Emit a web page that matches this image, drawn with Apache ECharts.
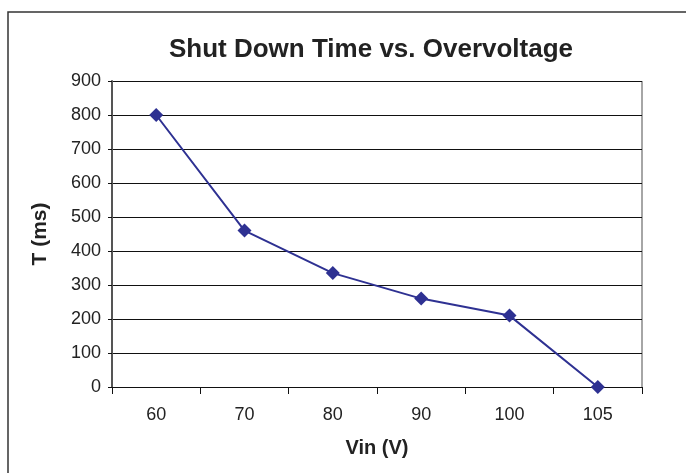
<!DOCTYPE html>
<html>
<head>
<meta charset="utf-8">
<script src="https://cdn.jsdelivr.net/npm/echarts@6/dist/echarts.min.js"></script>
<style>
  html, body { margin: 0; padding: 0; background: #fff; }
  #chart { width: 686px; height: 473px; }
</style>
</head>
<body>
<div id="chart"></div>
<script>
const vinLabels = ['60', '70', '80', '90', '100', '105'];
const shutdownTimes = [800, 460, 335, 260, 210, 0];

const chart = echarts.init(document.getElementById('chart'));
const font = '"Liberation Sans", Arial, sans-serif';

chart.setOption({
    animation: false,
    textStyle: {fontFamily: font},
    title: {
        text: 'Shut Down Time vs. Overvoltage',
        left: 366,
        top: 32,
        textAlign: 'center',
        textStyle: {fontSize: 26, fontWeight: 'bold', color: '#222', fontFamily: font}
    },
    graphic: [{
        type: 'rect',
        shape: {x: 8, y: 12, width: 700, height: 480},
        style: {fill: 'none', stroke: '#333', lineWidth: 1.5},
        silent: true
    }, {
        type: 'line',
        shape: {x1: 642, y1: 81, x2: 642, y2: 387},
        style: {stroke: '#888', lineWidth: 1.5},
        silent: true
    }],
    grid: {left: 112, right: 44, top: 81, bottom: 86},
    xAxis: {
        type: 'category',
        data: vinLabels,
        boundaryGap: true,
        name: 'Vin (V)',
        nameLocation: 'middle',
        nameGap: 51,
        nameTextStyle: {fontSize: 20, fontWeight: 'bold', color: '#222'},
        axisLine: {lineStyle: {color: '#111', width: 1}},
        axisTick: {show: true, length: 7, lineStyle: {color: '#111'}},
        axisLabel: {fontSize: 18, color: '#222', margin: 19}
    },
    yAxis: {
        type: 'value',
        min: 0,
        max: 900,
        interval: 100,
        name: 'T (ms)',
        nameLocation: 'middle',
        nameGap: 61,
        nameRotate: 90,
        nameTextStyle: {fontSize: 21, fontWeight: 'bold', color: '#222'},
        axisLine: {show: true, lineStyle: {color: '#555', width: 2}},
        axisTick: {show: true, length: 4, lineStyle: {color: '#111'}},
        axisLabel: {fontSize: 18, color: '#222', margin: 11},
        splitLine: {lineStyle: {color: '#111', width: 1}}
    },
    series: [{
        type: 'line',
        data: shutdownTimes,
        symbol: 'diamond',
        symbolSize: 14,
        itemStyle: {color: '#2E3192'},
        lineStyle: {color: '#2E3192', width: 2}
    }]
});
</script>
</body>
</html>
